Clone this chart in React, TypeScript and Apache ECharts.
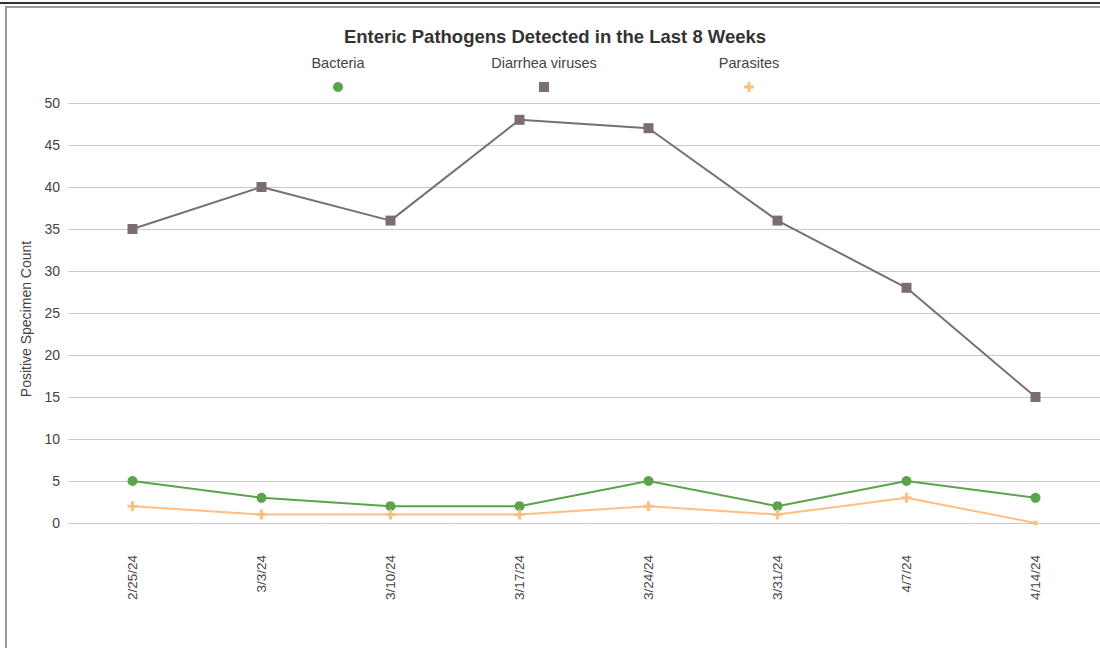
import React, { useEffect, useRef } from "react";
import * as echarts from "echarts";

const categories = ["2/25/24", "3/3/24", "3/10/24", "3/17/24", "3/24/24", "3/31/24", "4/7/24", "4/14/24"];
const bacteria = [5, 3, 2, 2, 5, 2, 5, 3];
const diarrheaViruses = [35, 40, 36, 48, 47, 36, 28, 15];
const parasites = [2, 1, 1, 1, 2, 1, 3, 0];
const seriesNames = ["Bacteria", "Diarrhea viruses", "Parasites"];
const yTicks = { min: 0, max: 50, interval: 5 };
const yTitle = "Positive Specimen Count";

const GREEN = "#5aa54b";
const GRAY = "#7a6e6e";
const ORANGE = "#ffbf80";
const PLUS = "path://M3.5,0h3v3.5h3.5v3h-3.5v3.5h-3v-3.5h-3.5v-3h3.5z";
const FONT = "Liberation Sans, Arial, sans-serif";

export default function App() {
  const ref = useRef<HTMLDivElement>(null);
  useEffect(() => {
    if (!ref.current) return;
    const chart = echarts.init(ref.current, null, { renderer: "svg" });
    const legendX = [338, 544, 749];
    const icons = ["circle", "rect", PLUS];
    const colors = [GREEN, GRAY, ORANGE];
    chart.setOption({
      animation: false,
      textStyle: { fontFamily: FONT },
      title: {
        text: "Enteric Pathogens Detected in the Last 8 Weeks",
        left: 550,
        textAlign: "center",
        top: 22,
        textStyle: { fontSize: 18.5, fontWeight: "bold", color: "#333", fontFamily: FONT },
      },
      legend: seriesNames.map((n, i) => ({
        data: [{ name: n, icon: icons[i] }],
        left: legendX[i] - 5,
        top: 82,
        itemWidth: 10,
        itemHeight: 10,
        itemGap: 0,
        padding: 0,
        formatter: () => "",
        selectedMode: false,
      })),
      graphic: [
        ...seriesNames.map((n, i) => ({
          type: "text",
          x: legendX[i],
          y: 63,
          style: {
            text: n,
            align: "center",
            verticalAlign: "middle",
            fontSize: 14.5,
            fontFamily: FONT,
            fill: "#444",
          },
        })),
        {
          type: "text",
          x: 26,
          y: 319,
          rotation: Math.PI / 2,
          style: {
            text: yTitle,
            align: "center",
            verticalAlign: "middle",
            fontSize: 14,
            fontFamily: FONT,
            fill: "#444",
          },
        },
      ],
      grid: { left: 68, right: 0, top: 103, bottom: 125, containLabel: false },
      xAxis: {
        type: "category",
        data: categories,
        boundaryGap: true,
        offset: 25,
        axisLine: { show: false },
        axisTick: { show: true, length: 4, lineStyle: { color: "#eeeeee" } },
        axisLabel: { rotate: 90, margin: 7, fontSize: 13.5, color: "#444", fontFamily: FONT },
        splitLine: { show: false },
      },
      yAxis: {
        type: "value",
        min: yTicks.min,
        max: yTicks.max,
        interval: yTicks.interval,
        axisLine: { show: false },
        axisTick: { show: false },
        axisLabel: { margin: 8, fontSize: 14, color: "#444", fontFamily: FONT },
        splitLine: { lineStyle: { color: "#c8c8c8", width: 1 } },
      },
      series: [
        {
          name: seriesNames[0],
          type: "line",
          data: bacteria,
          symbol: "circle",
          symbolSize: 10,
          itemStyle: { color: colors[0] },
          lineStyle: { color: colors[0], width: 2 },
        },
        {
          name: seriesNames[1],
          type: "line",
          data: diarrheaViruses,
          symbol: "rect",
          symbolSize: 10,
          itemStyle: { color: colors[1] },
          lineStyle: { color: colors[1], width: 2 },
        },
        {
          name: seriesNames[2],
          type: "line",
          data: parasites.map((v) => (v === 0 ? { value: v, symbol: "circle", symbolSize: 5 } : v)),
          symbol: PLUS,
          symbolSize: 10,
          itemStyle: { color: colors[2] },
          lineStyle: { color: colors[2], width: 2 },
        },
      ],
    });
    return () => chart.dispose();
  }, []);

  return (
    <div style={{ position: "fixed", left: 0, top: 0, width: 1100, height: 648, background: "#fff", overflow: "hidden" }}>
      <div style={{ position: "absolute", left: 0, top: 2, width: 1100, height: 2, background: "#333" }} />
      <div
        style={{
          position: "absolute",
          left: 5,
          top: 6,
          width: 1100,
          height: 660,
          borderLeft: "2px solid #999",
          borderTop: "2px solid #999",
        }}
      />
      <div ref={ref} style={{ position: "absolute", left: 0, top: 0, width: 1100, height: 648 }} />
    </div>
  );
}
